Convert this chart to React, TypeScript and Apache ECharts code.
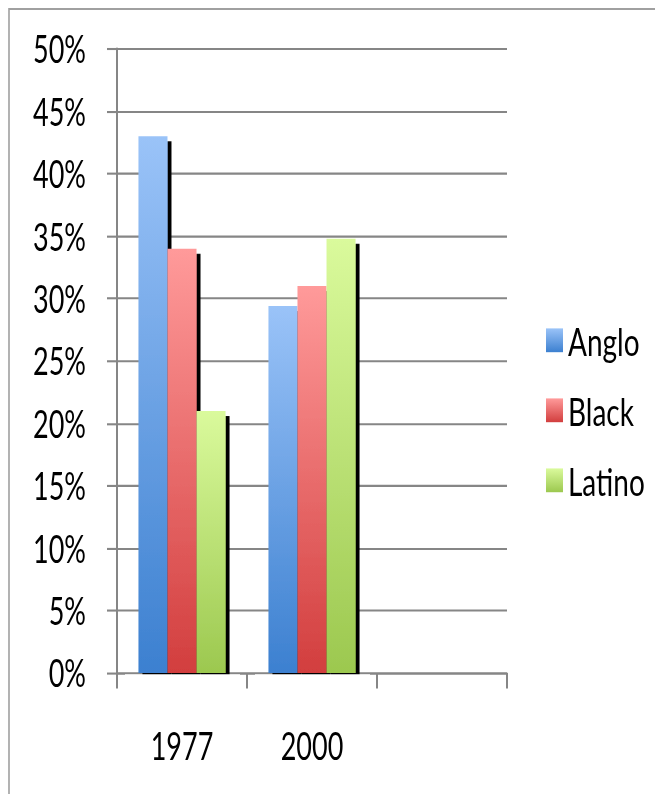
import React, { useEffect, useRef } from "react";
import * as echarts from "echarts";

const categories = ["1977", "2000", ""];
const seriesNames = ["Anglo", "Black", "Latino"];
const angloValues = [43, 29.4, null];
const blackValues = [34, 31, null];
const latinoValues = [21, 34.8, null];

const FONT = "Lato, 'Open Sans', sans-serif";
// the reference is vertically stretched; the chart is drawn at INNER_H and stretched to PAGE_H
const PAGE_W = 655;
const PAGE_H = 794;
const INNER_H = 567;
const SY = PAGE_H / INNER_H;

function grad(top: string, bottom: string) {
  return new echarts.graphic.LinearGradient(0, 0, 0, 1, [
    { offset: 0, color: top },
    { offset: 1, color: bottom },
  ]);
}

export default function App() {
  const ref = useRef<HTMLDivElement>(null);
  useEffect(() => {
    if (!ref.current) return;
    const chart = echarts.init(ref.current, null, { renderer: "svg" });
    const colors = [
      grad("#9ac3f8", "#3c80d0"),
      grad("#ff9a9a", "#d23e3e"),
      grad("#dafa9c", "#9cc84f"),
    ];
    const data = [angloValues, blackValues, latinoValues];
    const gridTop = 49 / SY;
    const gridBottomY = 673 / SY;
    const gridBottom = INNER_H - gridBottomY;
    chart.setOption({
      animation: false,
      graphic: [
        {
          type: "rect",
          shape: { x: 9, y: 9 / SY, width: 700, height: 820 },
          style: { fill: "none", stroke: "#a0a0a0", lineWidth: 1.6 },
          z: -1,
        },
        {
          type: "rect",
          shape: { x: 125, y: gridBottomY + 0.9, width: 115, height: 5 },
          style: { fill: "#fff" },
          z: 100,
        },
        {
          type: "rect",
          shape: { x: 255, y: gridBottomY + 0.9, width: 115, height: 5 },
          style: { fill: "#fff" },
          z: 100,
        },
      ],
      legend: {
        orient: "vertical",
        left: 541,
        top: 224,
        itemWidth: 17,
        itemHeight: 17,
        itemGap: 22,
        icon: "rect",
        data: seriesNames,
        textStyle: { fontFamily: FONT, fontSize: 28, color: "#000" },
      },
      grid: { left: 117, right: 148, top: gridTop, bottom: gridBottom },
      xAxis: {
        type: "category",
        data: categories,
        axisLine: { lineStyle: { color: "#868686", width: 1.5 } },
        axisTick: { show: true, length: 11, lineStyle: { color: "#868686", width: 2 } },
        axisLabel: { fontFamily: FONT, fontSize: 27, color: "#000", margin: 38 },
      },
      yAxis: {
        type: "value",
        min: 0,
        max: 50,
        interval: 5,
        axisLine: { show: true, lineStyle: { color: "#868686", width: 2 } },
        axisTick: { show: true, length: 10, lineStyle: { color: "#868686", width: 1.5 } },
        splitLine: { lineStyle: { color: "#868686", width: 1.5 } },
        axisLabel: {
          fontFamily: FONT,
          fontSize: 27,
          color: "#000",
          margin: 31,
          formatter: (v: number) => v + "%",
        },
      },
      series: seriesNames.map((name, i) => ({
        name,
        type: "bar",
        data: data[i],
        barGap: "0%",
        barCategoryGap: "33%",
        itemStyle: {
          color: colors[i],
          shadowColor: "#000",
          shadowBlur: 1,
          shadowOffsetX: 4,
          shadowOffsetY: 3.6,
        },
      })),
    });
    return () => chart.dispose();
  }, []);
  return (
    <div
      style={{ position: "absolute", left: 0, top: 0, width: PAGE_W, height: PAGE_H, overflow: "hidden", background: "#fff" }}
    >
      <div
        ref={ref}
        style={{ width: PAGE_W, height: INNER_H, transform: `scaleY(${SY})`, transformOrigin: "0 0" }}
      />
    </div>
  );
}
